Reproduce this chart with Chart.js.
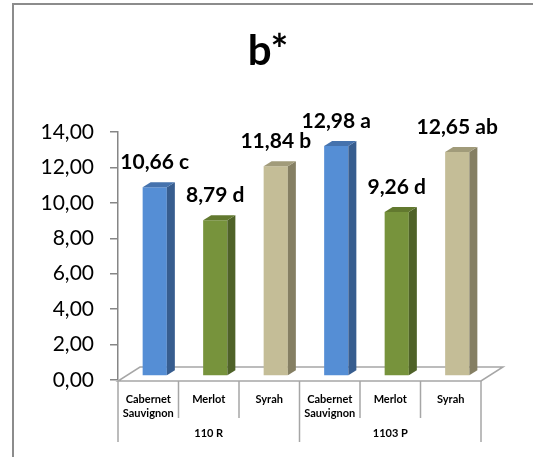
<!DOCTYPE html>
<html>
<head>
<meta charset="utf-8">
<script src="https://cdn.jsdelivr.net/npm/chart.js@4.4.1/dist/chart.umd.min.js"></script>
<style>
  html, body { margin: 0; padding: 0; background: #fff; }
  #wrap { width: 533px; height: 457px; }
</style>
</head>
<body>
<div id="wrap"><canvas id="c" width="533" height="457"></canvas></div>
<script>
// b* colour coordinate per grape variety, grouped by rootstock
const chartTitle = 'b*';
const varieties = ['Cabernet Sauvignon', 'Merlot', 'Syrah'];
const rootstocks = ['110 R', '1103 P'];
const bStar = [10.66, 8.79, 11.84, 12.98, 9.26, 12.65];
const letters = ['c', 'd', 'b', 'a', 'd', 'ab'];
const yTicks = [0, 2, 4, 6, 8, 10, 12, 14];

// colour per variety: front face, side face, top face
const faceColors = ['#558ED5', '#77933C', '#C4BD97'];
const sideColors = ['#375D8F', '#4F6228', '#857F63'];
const topColors  = ['#4572AD', '#62792F', '#A19B7A'];

const labels = [];
rootstocks.forEach(() => varieties.forEach(v => labels.push(v.split(' '))));
const barIdx = labels.map((_, i) => i % varieties.length);

const fmt = v => v.toFixed(2).replace('.', ',');
const FONT = 'Lato, "Open Sans", sans-serif';

// 3D look: bars sit half way back on the floor
const D = { bx: 6.5, by: -4, sx: 8, sy: -5, fx: 22, fy: -14 };
const GRID = '#a6a6a6';

const frame = {
  id: 'frame',
  beforeDraw(chart) {
    const c = chart.ctx;
    c.save();
    c.fillStyle = '#fff';
    c.fillRect(0, 0, chart.width, chart.height);
    c.strokeStyle = '#8c8c8c';
    c.lineWidth = 2;
    c.strokeRect(13, 4, chart.width + 40, chart.height + 40);
    c.restore();
  },
  afterDraw(chart) {
    // title centred on the whole frame
    const c = chart.ctx;
    c.save();
    c.fillStyle = '#000';
    c.font = 'bold 42px ' + FONT;
    c.textAlign = 'center';
    c.textBaseline = 'alphabetic';
    c.fillText(chartTitle, 268, 65);
    c.restore();
  }
};

const bars3d = {
  id: 'bars3d',
  beforeDatasetsDraw(chart) {
    const c = chart.ctx, a = chart.chartArea;
    const y0 = a.bottom + 1;
    c.save();
    c.beginPath();
    c.moveTo(a.left, y0);
    c.lineTo(a.right, y0);
    c.lineTo(a.right + D.fx, y0 + D.fy);
    c.lineTo(a.left + D.fx, y0 + D.fy);
    c.closePath();
    c.fillStyle = '#fff';
    c.fill();
    c.strokeStyle = GRID;
    c.lineWidth = 1.5;
    c.stroke();
    c.restore();
    c.save();
    c.translate(D.bx, D.by);
  },
  afterDatasetsDraw(chart) {
    const c = chart.ctx;
    const meta = chart.getDatasetMeta(0);
    meta.data.forEach((bar, i) => {
      const k = barIdx[i];
      const l = bar.x - bar.width / 2, r = bar.x + bar.width / 2;
      const t = bar.y, b = bar.base;
      // side face
      c.beginPath();
      c.moveTo(r, t); c.lineTo(r + D.sx, t + D.sy);
      c.lineTo(r + D.sx, b + D.sy); c.lineTo(r, b);
      c.closePath();
      c.fillStyle = sideColors[k];
      c.fill();
      // top face
      c.beginPath();
      c.moveTo(l, t); c.lineTo(r, t);
      c.lineTo(r + D.sx, t + D.sy); c.lineTo(l + D.sx, t + D.sy);
      c.closePath();
      c.fillStyle = topColors[k];
      c.fill();
      // value label with significance letter
      c.fillStyle = '#000';
      c.font = 'bold 21px ' + FONT;
      c.textAlign = 'center';
      c.textBaseline = 'alphabetic';
      c.fillText(fmt(bStar[i]) + ' ' + letters[i], bar.x, t - 18);
    });
    c.restore();
  },
  afterDraw(chart) {
    const c = chart.ctx, a = chart.chartArea;
    const n = labels.length, w = (a.right - a.left) / n;
    const y0 = a.bottom + 1;
    c.save();
    c.strokeStyle = GRID;
    c.lineWidth = 1.5;
    for (let i = 0; i <= n; i++) {
      const x = a.left + i * w;
      const groupEdge = i % varieties.length === 0;
      c.beginPath();
      c.moveTo(x, y0);
      c.lineTo(x, groupEdge ? 442 : 418);
      c.stroke();
    }
    c.fillStyle = '#000';
    c.font = 'bold 11px ' + FONT;
    c.textAlign = 'center';
    c.textBaseline = 'middle';
    rootstocks.forEach((g, j) => {
      const gx = a.left + (j + 0.5) * varieties.length * w;
      c.fillText(g, gx, 433);
    });
    c.restore();
  }
};

new Chart(document.getElementById('c'), {
  type: 'bar',
  data: {
    labels: labels,
    datasets: [{
      data: bStar,
      backgroundColor: barIdx.map(k => faceColors[k]),
      borderWidth: 0,
      barPercentage: 0.4,
      categoryPercentage: 1.0
    }]
  },
  options: {
    responsive: false,
    animation: false,
    devicePixelRatio: 1,
    layout: { padding: { left: 14, right: 52, top: 132, bottom: 0 } },
    plugins: {
      legend: { display: false },
      tooltip: { enabled: false },
      title: { display: false }
    },
    scales: {
      x: {
        grid: { display: false },
        border: { display: false },
        ticks: {
          color: '#000',
          font: { family: FONT, size: 11, weight: 'bold', lineHeight: 1.25 },
          padding: 5,
          maxRotation: 0,
          autoSkip: false
        },
        afterFit(scale) { scale.height = 77; }
      },
      y: {
        min: 0,
        max: 14,
        afterBuildTicks(scale) { scale.ticks = yTicks.map(v => ({ value: v })); },
        grid: { drawOnChartArea: false, drawTicks: true, tickLength: 8, color: '#868686', lineWidth: 1.5 },
        border: { display: true, color: '#868686', width: 1.5 },
        ticks: {
          color: '#000',
          font: { family: FONT, size: 21 },
          padding: 16,
          callback: v => fmt(v)
        },
        afterFit(scale) { scale.width = 104; }
      }
    }
  },
  plugins: [frame, bars3d]
});
</script>
</body>
</html>
